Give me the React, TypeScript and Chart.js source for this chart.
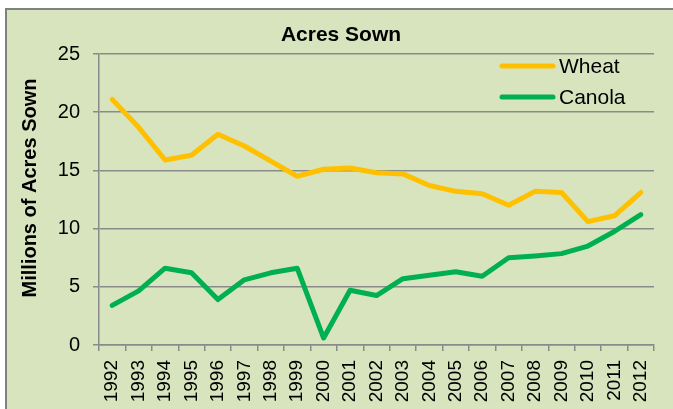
import React, { useEffect, useRef } from "react";
import { Chart, registerables } from "chart.js";

Chart.register(...registerables);

const years = ["1992","1993","1994","1995","1996","1997","1998","1999","2000","2001","2002","2003","2004","2005","2006","2007","2008","2009","2010","2011","2012"];
const wheat = [21.1,18.7,15.9,16.3,18.1,17.1,15.8,14.5,15.1,15.2,14.8,14.7,13.7,13.2,13.0,12.0,13.2,13.1,10.6,11.1,13.1];
const canola = [3.4,4.65,6.6,6.2,3.9,5.6,6.2,6.6,0.6,4.7,4.25,5.7,6.0,6.3,5.9,7.5,7.65,7.85,8.5,9.75,11.2];
const yTicks = [0, 5, 10, 15, 20, 25];
const chartTitle = "Acres Sown";
const yTitle = "Millions of Acres Sown";

const FONT = '"Liberation Sans", Arial, sans-serif';

const decor = {
  id: "decor",
  beforeDraw(chart: any) {
    const ctx = chart.ctx;
    ctx.save();
    ctx.fillStyle = "#D7E4BD";
    ctx.fillRect(6, 9, 700, 420);
    ctx.strokeStyle = "#808080";
    ctx.lineWidth = 2;
    ctx.strokeRect(6, 9, 700, 420);
    ctx.restore();
  },
  afterDraw(chart: any) {
    const ctx = chart.ctx;
    ctx.save();
    ctx.fillStyle = "#000";
    ctx.textAlign = "center";
    ctx.textBaseline = "middle";
    ctx.font = "bold 21px " + FONT;
    ctx.fillText(chartTitle, 341, 35);
    ctx.font = "bold 20px " + FONT;
    ctx.translate(30, 188);
    ctx.rotate(-Math.PI / 2);
    ctx.fillText(yTitle, 0, 0);
    ctx.restore();

    ctx.save();
    const ds = chart.data.datasets;
    const ys = [66, 97];
    ds.forEach((d: any, i: number) => {
      ctx.strokeStyle = d.borderColor;
      ctx.lineWidth = 5;
      ctx.lineCap = "round";
      ctx.beginPath();
      ctx.moveTo(502, ys[i]);
      ctx.lineTo(553, ys[i]);
      ctx.stroke();
      ctx.fillStyle = "#000";
      ctx.font = "21px " + FONT;
      ctx.textAlign = "left";
      ctx.textBaseline = "middle";
      ctx.fillText(d.label, 559, ys[i] + 1);
    });
    ctx.restore();
  },
};

export default function App() {
  const ref = useRef<HTMLCanvasElement | null>(null);
  useEffect(() => {
    if (!ref.current) return;
    const chart = new Chart(ref.current, {
      type: "line",
      data: {
        labels: years,
        datasets: [
          { label: "Wheat", data: wheat, borderColor: "#FFC000", backgroundColor: "#FFC000", borderWidth: 5, pointRadius: 0, tension: 0, borderJoinStyle: "round", borderCapStyle: "round" },
          { label: "Canola", data: canola, borderColor: "#00B050", backgroundColor: "#00B050", borderWidth: 5, pointRadius: 0, tension: 0, borderJoinStyle: "round", borderCapStyle: "round" },
        ],
      },
      options: {
        responsive: false,
        animation: false,
        layout: { padding: { top: 54, right: 18, bottom: 0, left: 0 } },
        plugins: { legend: { display: false }, title: { display: false }, tooltip: { enabled: false } },
        scales: {
          x: {
            offset: true,
            grid: { display: true, drawOnChartArea: false, drawTicks: true, tickLength: 6, offset: true, color: "#8a8a8a", lineWidth: 1.5 },
            border: { display: true, color: "#8a8a8a", width: 1.5 },
            ticks: { autoSkip: false, maxRotation: 90, minRotation: 90, padding: 9, color: "#000", font: { family: FONT, size: 19 } },
            afterFit(scale: any) { scale.height = 64; },
          },
          y: {
            min: 0,
            max: 25,
            afterBuildTicks(scale: any) { scale.ticks = yTicks.map((v) => ({ value: v })); },
            grid: { color: "#8a8a8a", lineWidth: 1.5, tickLength: 6, drawTicks: true },
            border: { display: true, color: "#8a8a8a", width: 1.5 },
            ticks: { padding: 13, color: "#000", font: { family: FONT, size: 20 } },
            afterFit(scale: any) { scale.width = 99; },
          },
        },
      },
      plugins: [decor],
    });
    return () => chart.destroy();
  }, []);
  return (
    <canvas ref={ref} width={673} height={409} style={{ position: "fixed", left: 0, top: 0, display: "block" }} />
  );
}
